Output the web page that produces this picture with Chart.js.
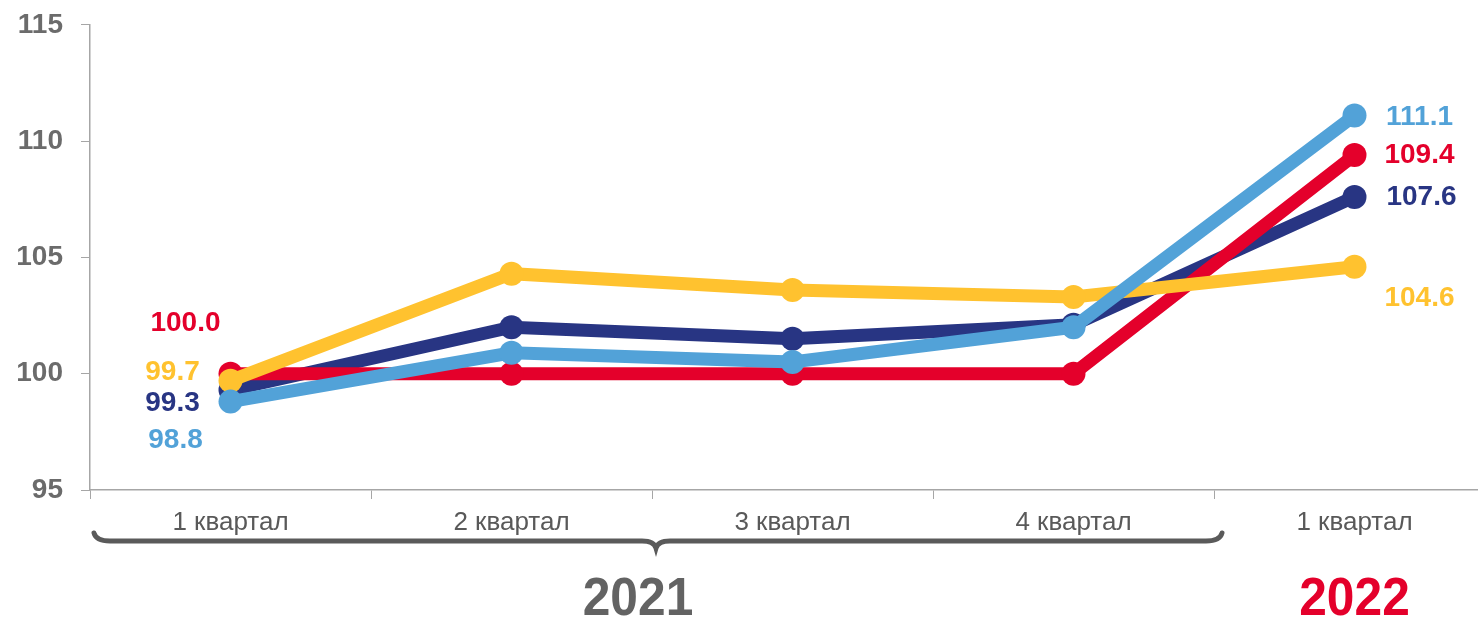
<!DOCTYPE html>
<html>
<head>
<meta charset="utf-8">
<script src="https://cdn.jsdelivr.net/npm/chart.js@4/dist/chart.umd.min.js"></script>
<style>
  html, body { margin: 0; padding: 0; background: #fff; overflow: hidden; }
  #wrap { width: 1478px; height: 620px; overflow: hidden; }
  #chart { display: block; margin-top: -10px; }
</style>
</head>
<body>
<div id="wrap"><canvas id="chart" width="1507" height="630"></canvas></div>
<script>
// Данные
const categories = ['1 квартал', '2 квартал', '3 квартал', '4 квартал', '1 квартал'];
const yTicks     = [95, 100, 105, 110, 115];
const years      = ['2021', '2022'];

const redValues       = [100.0, 100.0, 100.0, 100.0, 109.4];
const darkBlueValues  = [99.3, 102.0, 101.5, 102.1, 107.6];
const lightBlueValues = [98.8, 100.9, 100.5, 102.0, 111.1];
const yellowValues    = [99.7, 104.3, 103.6, 103.3, 104.6];

const COLORS = {
  red:   '#e4002b',
  navy:  '#283583',
  sky:   '#52a2d8',
  gold:  '#ffc22f',
  axis:  '#a6a6a6',
  tick:  '#6b6b6b',
  label: '#595959',
};

// смещения подписей для первой / последней точки
const LABEL_OFFSETS = {
  red:  [[-45, -50], [65, 0]],
  navy: [[-58, 13], [67, 0]],
  sky:  [[-55, 39], [65, 2]],
  gold: [[-58, -8], [65, 32]],
};

function series(key, data, order) {
  return {
    key,
    data,
    order,
    borderColor: COLORS[key],
    backgroundColor: COLORS[key],
    borderWidth: 13,
    pointRadius: 12,
    pointHoverRadius: 12,
    pointBorderWidth: 0,
    tension: 0,
  };
}

// Подписи значений у первой и последней точки
const valueLabels = {
  id: 'valueLabels',
  afterDatasetsDraw(chart) {
    const ctx = chart.ctx;
    ctx.save();
    ctx.font = 'bold 28px "Liberation Sans", Arial, sans-serif';
    ctx.textAlign = 'center';
    ctx.textBaseline = 'middle';
    chart.data.datasets.forEach((ds, i) => {
      const meta = chart.getDatasetMeta(i);
      const offs = LABEL_OFFSETS[ds.key];
      [0, ds.data.length - 1].forEach((idx, k) => {
        const pt = meta.data[idx];
        ctx.fillStyle = COLORS[ds.key];
        ctx.fillText(ds.data[idx].toFixed(1), pt.x + offs[k][0], pt.y + offs[k][1]);
      });
    });
    ctx.restore();
  },
};

// Фигурная скобка и годы
const yearBrace = {
  id: 'yearBrace',
  afterDraw(chart) {
    const ctx = chart.ctx;
    const x = chart.scales.x;
    const base = chart.chartArea.bottom;
    const step = x.getPixelForValue(1) - x.getPixelForValue(0);
    const left  = x.getPixelForValue(0) - step / 2 + 4;
    const right = x.getPixelForValue(3) + step / 2 + 8;
    const mid   = x.getPixelForValue(1) + step / 2 + 4;
    const y = base + 51;
    ctx.save();
    ctx.strokeStyle = '#5a5a5a';
    ctx.lineWidth = 5;
    ctx.lineCap = 'round';
    ctx.beginPath();
    ctx.moveTo(left, y - 8);
    ctx.quadraticCurveTo(left + 2, y, left + 16, y);
    ctx.lineTo(mid - 14, y);
    ctx.quadraticCurveTo(mid - 2, y, mid, y + 7);
    ctx.quadraticCurveTo(mid + 2, y, mid + 14, y);
    ctx.lineTo(right - 16, y);
    ctx.quadraticCurveTo(right - 2, y, right, y - 8);
    ctx.stroke();

    ctx.font = 'bold 54px "Liberation Sans", Arial, sans-serif';
    ctx.textAlign = 'center';
    ctx.textBaseline = 'middle';
    const drawYear = (txt, cx, color) => {
      ctx.save();
      ctx.translate(cx, base + 110);
      ctx.scale(0.92, 1);
      ctx.fillStyle = color;
      ctx.fillText(txt, 0, 0);
      ctx.restore();
    };
    drawYear(years[0], mid - 18, '#636363');
    drawYear(years[1], x.getPixelForValue(4), COLORS.red);
    ctx.restore();
  },
};

new Chart(document.getElementById('chart'), {
  type: 'line',
  data: {
    labels: categories,
    datasets: [
      series('navy', darkBlueValues, 4),
      series('red', redValues, 3),
      series('gold', yellowValues, 2),
      series('sky', lightBlueValues, 1),
    ],
  },
  options: {
    responsive: false,
    animation: false,
    events: [],
    layout: { padding: { top: 9, right: 5, left: 0, bottom: 0 } },
    plugins: { legend: { display: false }, tooltip: { enabled: false } },
    scales: {
      x: {
        offset: true,
        grid: { offset: true, drawOnChartArea: false, drawTicks: true, tickLength: 9, color: COLORS.axis, lineWidth: 1 },
        border: { color: COLORS.axis, width: 1.5 },
        ticks: {
          color: COLORS.label,
          font: { family: '"Liberation Sans", Arial, sans-serif', size: 26 },
          padding: 8,
          maxRotation: 0,
        },
        afterFit(scale) { scale.height = 130; },
      },
      y: {
        min: 95,
        max: 115,
        afterBuildTicks(scale) { scale.ticks = yTicks.map(v => ({ value: v })); },
        grid: { drawOnChartArea: false, drawTicks: true, tickLength: 9, color: COLORS.axis, lineWidth: 1 },
        border: { color: COLORS.axis, width: 1.5 },
        ticks: {
          color: COLORS.tick,
          font: { family: '"Liberation Sans", Arial, sans-serif', size: 28, weight: 'bold' },
          padding: 18,
        },
        afterFit(scale) { scale.width = 90; },
      },
    },
  },
  plugins: [valueLabels, yearBrace],
});
</script>
</body>
</html>
